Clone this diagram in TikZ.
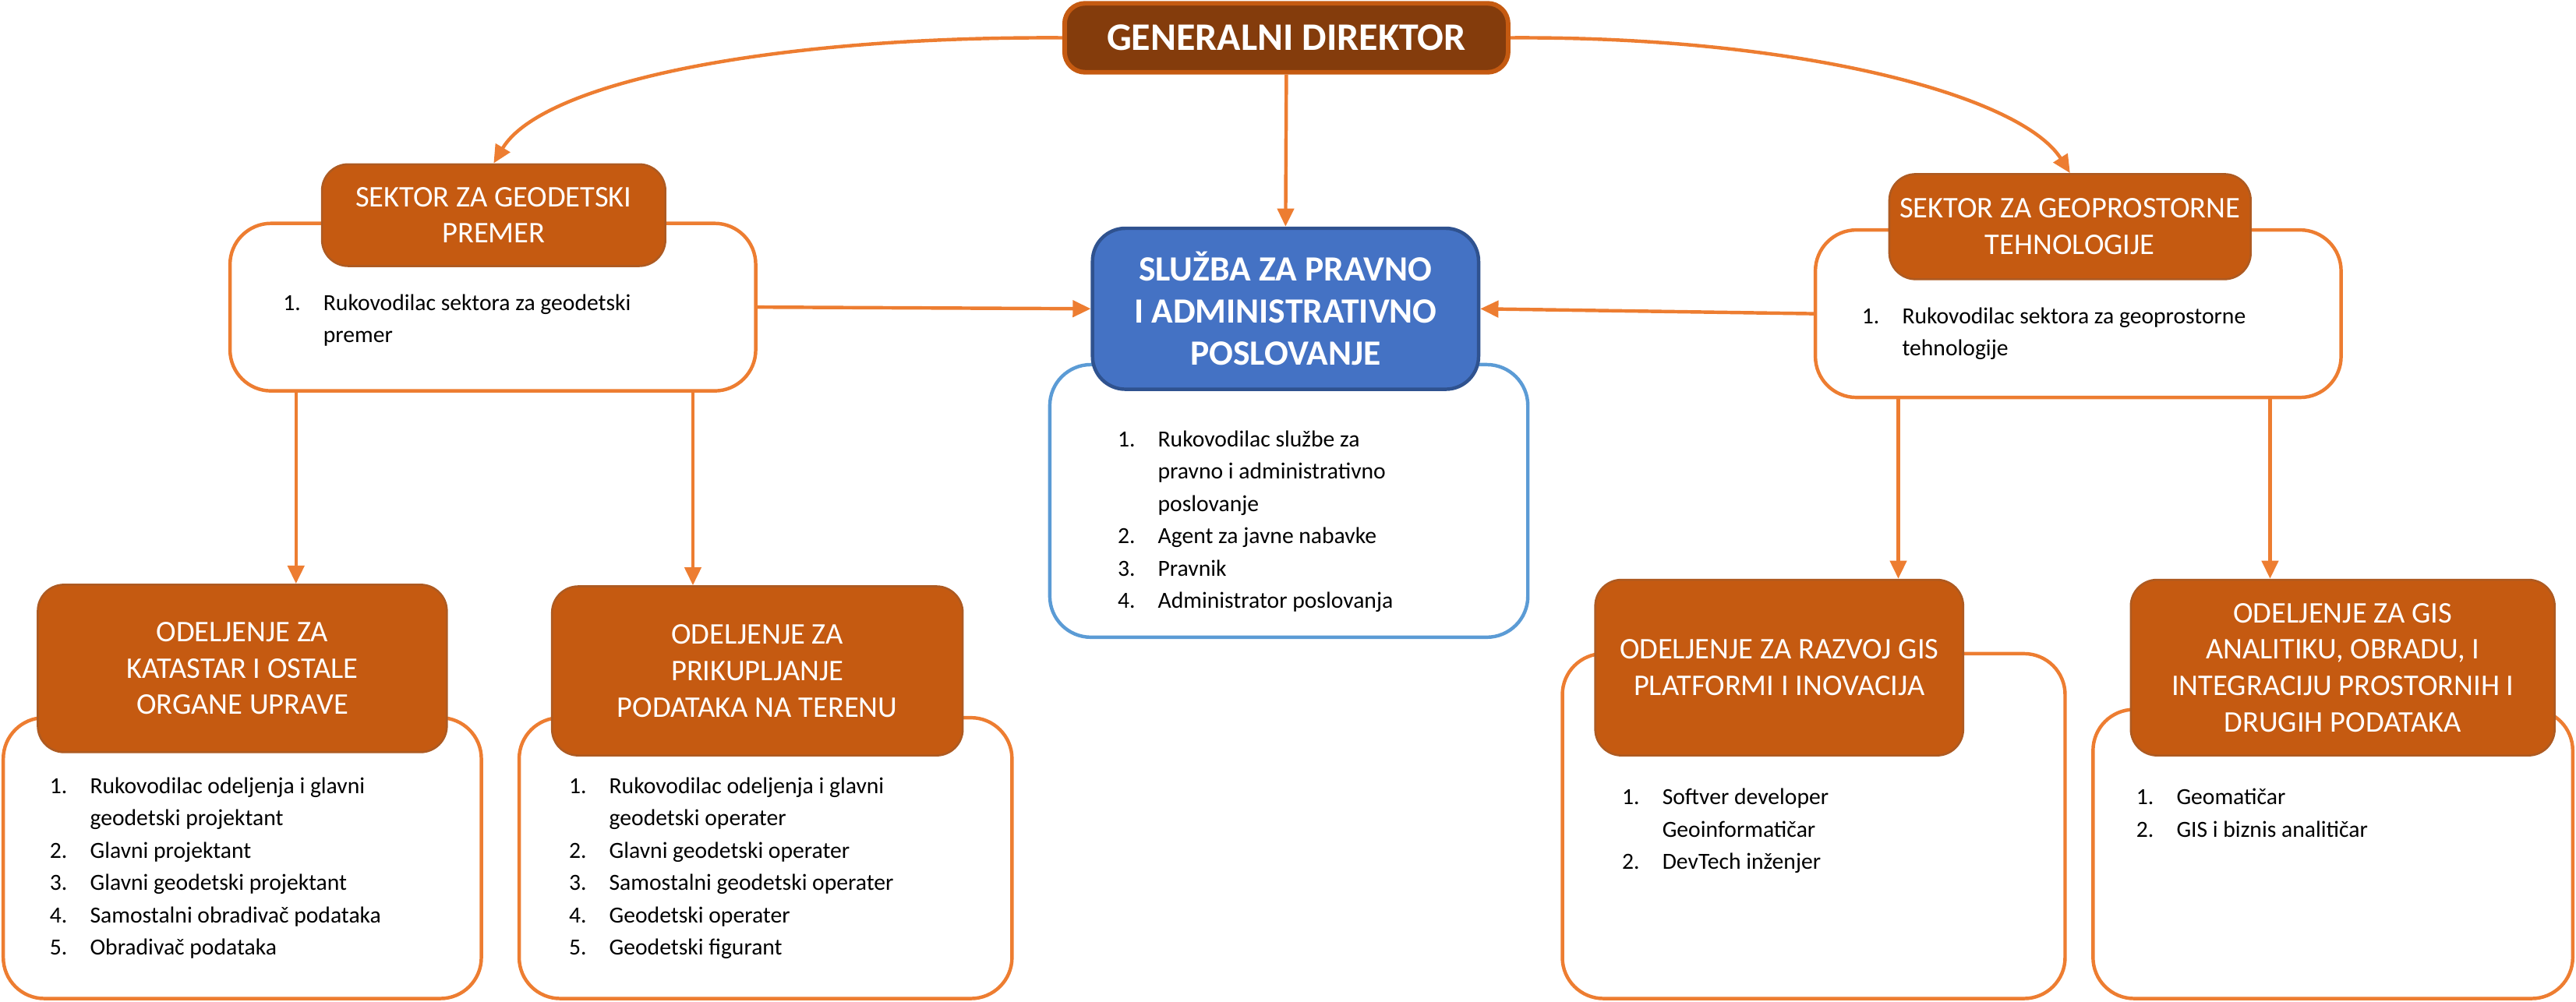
\documentclass[tikz,border=0pt]{standalone}
\usepackage{fontspec}
\setmainfont{Carlito}
\usetikzlibrary{arrows.meta,calc}
\definecolor{gdfill}{HTML}{843C0C}
\definecolor{hdr}{HTML}{C55A11}
\definecolor{hdrline}{HTML}{AE5A21}
\definecolor{org}{HTML}{ED7D31}
\definecolor{blu}{HTML}{4472C4}
\definecolor{bluline}{HTML}{2F528F}
\definecolor{lblue}{HTML}{5B9BD5}
\newlength\numw \setlength\numw{0.49cm}
\newcommand\nitem[1]{\makebox[\numw][l]{#1}}
\newcommand\ncont{\hspace*{\numw}}
\newcommand\lst[1]{\parbox[t]{6cm}{\raggedright #1}}
\begin{document}
\begin{tikzpicture}[x=0.02cm,y=-0.02cm,
  sz/.style 2 args={minimum width={#1*0.02cm}, minimum height={#2*0.02cm}},
  hdrbox/.style={rectangle, rounded corners=0.32cm, fill=hdr, draw=hdrline, line width=0.7pt,
    text=white, font=\fontsize{10.4}{12.6}\selectfont, align=center, inner sep=0pt},
  gdbox/.style={rectangle, rounded corners=0.25cm, fill=gdfill, draw=hdr, line width=1.6pt,
    text=white, font=\fontsize{13.5}{16}\selectfont\bfseries, align=center, inner sep=0pt},
  bluebox/.style={rectangle, rounded corners=0.4cm, fill=blu, draw=bluline, line width=1.2pt,
    text=white, font=\fontsize{12.3}{14.6}\selectfont\bfseries, align=center, inner sep=0pt},
  outbox/.style={rectangle, rounded corners=0.5cm, draw=org, line width=1.2pt, fill=white, inner sep=0pt},
  listtxt/.style={anchor=base west, inner sep=0pt, font=\fontsize{8}{11.2}\selectfont},
  conn/.style={draw=org, line width=1.2pt, -{Triangle[length=0.22cm,width=0.2cm]}}
]
\useasboundingbox (0,0) rectangle (1568,610);

% outer boxes
\node[outbox, sz={320}{102}] (sgpo) at (300,187) {};
\node[outbox, sz={320}{102}] (sgto) at (1265,191) {};
\node[outbox, draw=lblue, sz={291}{166}] (sluzo) at (784.5,305) {};
\node[outbox, sz={291}{171}] (kato) at (147.5,522.5) {};
\node[outbox, sz={300}{171}] (priko) at (466,522.5) {};
\node[outbox, sz={306}{210}] (razvo) at (1104,503) {};
\node[outbox, sz={292}{176}] (analo) at (1420,520) {};

% headers
\node[gdbox, sz={270}{42}] (gd) at (783,23) {GENERALNI DIREKTOR};
\node[hdrbox, sz={209}{62}] (sgp) at (300.5,131) {SEKTOR ZA GEODETSKI\\PREMER};
\node[hdrbox, sz={220}{64}] (sgt) at (1260,138) {SEKTOR ZA GEOPROSTORNE\\TEHNOLOGIJE};
\node[bluebox, sz={235}{98}] (sluz) at (782.5,188) {SLUŽBA ZA PRAVNO\\I ADMINISTRATIVNO\\POSLOVANJE};
\node[hdrbox, sz={249}{102}] (kat) at (147.5,407) {ODELJENJE ZA\\KATASTAR I OSTALE\\ORGANE UPRAVE};
\node[hdrbox, sz={250}{103}] (prik) at (461,408.5) {ODELJENJE ZA\\PRIKUPLJANJE\\PODATAKA NA TERENU};
\node[hdrbox, sz={224}{107}] (razv) at (1083,406.5) {\raisebox{-0.15cm}{\parbox{4.4cm}{\centering ODELJENJE ZA RAZVOJ GIS\\PLATFORMI I INOVACIJA}}};
\node[hdrbox, sz={258}{107}] (anal) at (1426,406.5) {\raisebox{-0.1cm}{\parbox{5.1cm}{\centering ODELJENJE ZA GIS\\ANALITIKU, OBRADU, I\\INTEGRACIJU PROSTORNIH I\\DRUGIH PODATAKA}}};

% lists
\node[listtxt] (sgpl) at (172,189) {\lst{\nitem{1.}Rukovodilac sektora za geodetski\\\ncont premer}};
\node[listtxt] (sgtl) at (1133,197) {\lst{\nitem{1.}Rukovodilac sektora za geoprostorne\\\ncont tehnologije}};
\node[listtxt] (sluzl) at (680,272) {\lst{\nitem{1.}Rukovodilac službe za\\\ncont pravno i administrativno\\\ncont poslovanje\\\nitem{2.}Agent za javne nabavke\\\nitem{3.}Pravnik\\\nitem{4.}Administrator poslovanja}};
\node[listtxt] (katl) at (30,483) {\lst{\nitem{1.}Rukovodilac odeljenja i glavni\\\ncont geodetski projektant\\\nitem{2.}Glavni projektant\\\nitem{3.}Glavni geodetski projektant\\\nitem{4.}Samostalni obradivač podataka\\\nitem{5.}Obradivač podataka}};
\node[listtxt] (prikl) at (346,483) {\lst{\nitem{1.}Rukovodilac odeljenja i glavni\\\ncont geodetski operater\\\nitem{2.}Glavni geodetski operater\\\nitem{3.}Samostalni geodetski operater\\\nitem{4.}Geodetski operater\\\nitem{5.}Geodetski figurant}};
\node[listtxt] (razvl) at (987,490) {\lst{\nitem{1.}Softver developer\\\ncont Geoinformatičar\\\nitem{2.}DevTech inženjer}};
\node[listtxt] (anall) at (1300,490) {\lst{\nitem{1.}Geomatičar\\\nitem{2.}GIS i biznis analitičar}};

% connectors
\draw[conn] (gd.west) .. controls (470,22) and (330,50) .. (sgp.north);
\draw[conn] (gd.east) .. controls (1095,22) and (1230,58) .. (sgt.north);
\draw[conn] (gd.south) -- (sluz.north);
\draw[conn] (sgpo.east) -- (sluz.west);
\draw[conn] (sgto.west) -- (sluz.east);
\coordinate (d1) at ($(sgpo.south west)!0.128!(sgpo.south east)$);
\coordinate (d2) at ($(sgpo.south west)!0.878!(sgpo.south east)$);
\coordinate (d3) at ($(sgto.south west)!0.16!(sgto.south east)$);
\coordinate (d4) at ($(sgto.south west)!0.8625!(sgto.south east)$);
\draw[conn] (d1) -- (d1 |- kat.north);
\draw[conn] (d2) -- (d2 |- prik.north);
\draw[conn] (d3) -- (d3 |- razv.north);
\draw[conn] (d4) -- (d4 |- anal.north);
\end{tikzpicture}
\end{document}
